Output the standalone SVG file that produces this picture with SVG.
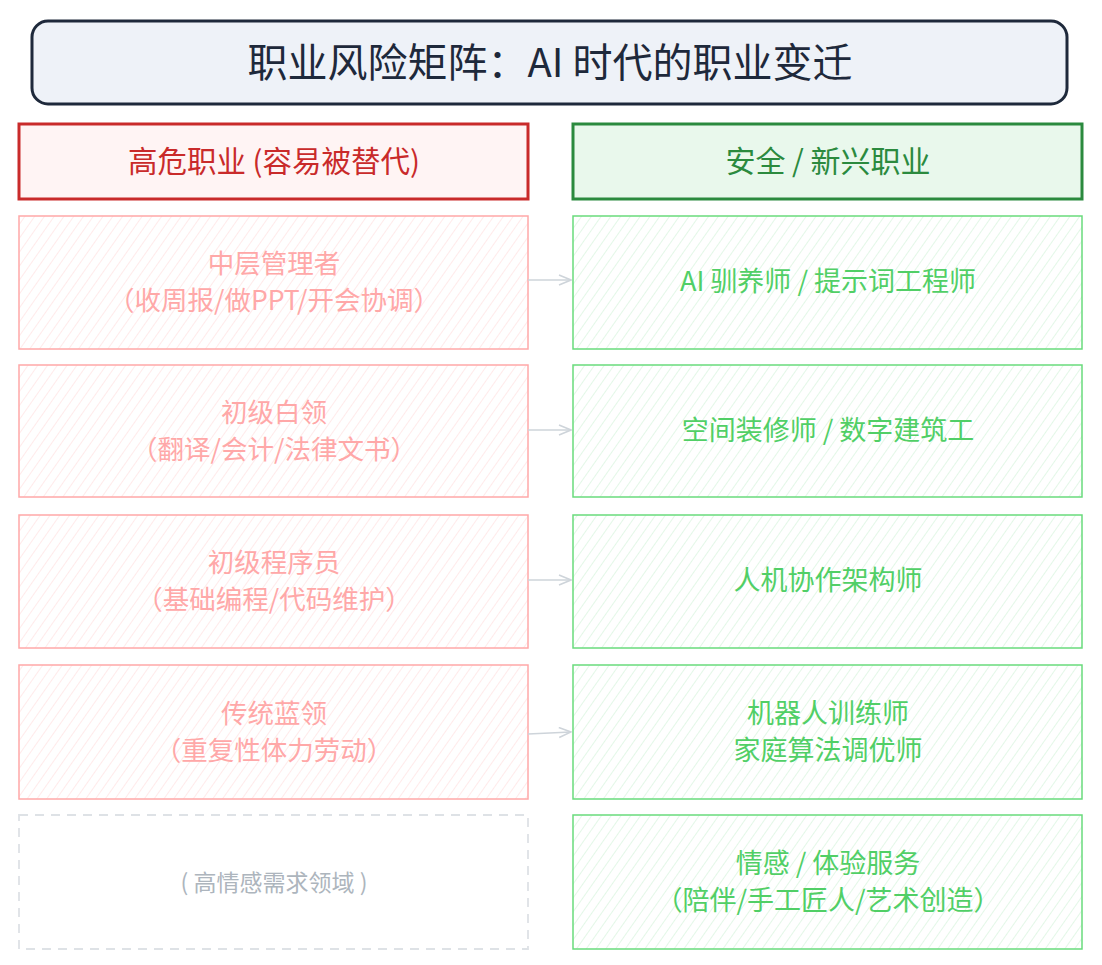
<svg xmlns="http://www.w3.org/2000/svg" width="1102" height="965" viewBox="0 0 1102 965">
<defs>
<pattern id="hr" width="8" height="8" patternUnits="userSpaceOnUse" patternTransform="rotate(35)">
<line x1="0" y1="0" x2="0" y2="8" stroke="#ffd6d6" stroke-width="1"/>
</pattern>
<pattern id="hg" width="8" height="8" patternUnits="userSpaceOnUse" patternTransform="rotate(35)">
<line x1="0" y1="0" x2="0" y2="8" stroke="#c8f0cf" stroke-width="1"/>
</pattern>
<marker id="ah" markerWidth="14" markerHeight="12" refX="13" refY="6" orient="auto" markerUnits="userSpaceOnUse">
<path d="M1,1 L13,6 L1,11" fill="none" stroke="#ced4da" stroke-width="1.5"/>
</marker>
</defs>
<style>
text{font-family:"Noto Sans CJK SC","Noto Sans",sans-serif;text-anchor:middle;dominant-baseline:central}
.lb{fill:url(#hr);stroke:#ffa8a8;stroke-width:1.5}
.rb{fill:url(#hg);stroke:#69db7c;stroke-width:1.5}
.lt{fill:#ffa8a8;font-size:26.5px}
.rt{fill:#51cf66;font-size:27px}
.cn{stroke:#ced4da;stroke-width:1.5;fill:none}
</style>
<rect width="1102" height="965" fill="#ffffff"/>
<g id="title">
<rect x="32" y="21" width="1035" height="83" rx="16" fill="#eef2f8" stroke="#1e293b" stroke-width="3"/>
<text x="550" y="60" font-size="40" fill="#1e293b">职业风险矩阵：AI 时代的职业变迁</text>
</g>
<g id="hdr-left">
<rect x="19" y="124" width="509" height="75" fill="#fff4f4" stroke="#c92a2a" stroke-width="3"/>
<text x="274" y="159" font-size="29.5" fill="#c92a2a">高危职业 (容易被替代)</text>
</g>
<g id="hdr-right">
<rect x="573" y="124" width="509" height="75" fill="#e9f8ec" stroke="#2b8a3e" stroke-width="3"/>
<text x="828" y="159" font-size="30" fill="#2b8a3e">安全 / 新兴职业</text>
</g>
<g id="l1"><rect class="lb" x="19" y="216" width="509" height="133"/>
<text class="lt" x="274" y="261">中层管理者</text><text class="lt" x="274" y="298">（收周报/做PPT/开会协调）</text></g>
<g id="l2"><rect class="lb" x="19" y="365" width="509" height="132"/>
<text class="lt" x="274" y="410">初级白领</text><text class="lt" x="274" y="447">（翻译/会计/法律文书）</text></g>
<g id="l3"><rect class="lb" x="19" y="515" width="509" height="133"/>
<text class="lt" x="274" y="560">初级程序员</text><text class="lt" x="274" y="597">（基础编程/代码维护）</text></g>
<g id="l4"><rect class="lb" x="19" y="665" width="509" height="134"/>
<text class="lt" x="274" y="711">传统蓝领</text><text class="lt" x="274" y="748">（重复性体力劳动）</text></g>
<g id="l5"><rect x="19" y="815" width="509" height="134" fill="#ffffff" stroke="#dee2e6" stroke-width="1.8" stroke-dasharray="9,7"/>
<text x="274" y="881" font-size="23" fill="#adb5bd">( 高情感需求领域 )</text></g>
<g id="r1"><rect class="rb" x="573" y="216" width="509" height="133"/>
<text class="rt" x="828" y="279">AI 驯养师 / 提示词工程师</text></g>
<g id="r2"><rect class="rb" x="573" y="365" width="509" height="132"/>
<text class="rt" x="828" y="428">空间装修师 / 数字建筑工</text></g>
<g id="r3"><rect class="rb" x="573" y="515" width="509" height="133"/>
<text class="rt" x="828" y="578">人机协作架构师</text></g>
<g id="r4"><rect class="rb" x="573" y="665" width="509" height="134"/>
<text class="rt" x="828" y="711">机器人训练师</text><text class="rt" x="828" y="748">家庭算法调优师</text></g>
<g id="r5"><rect class="rb" x="573" y="815" width="509" height="134"/>
<text class="rt" x="828" y="861">情感 / 体验服务</text><text class="rt" x="828" y="898">（陪伴/手工匠人/艺术创造）</text></g>
<g id="connectors">
<path class="cn" d="M528,280 L571,280" marker-end="url(#ah)"/>
<path class="cn" d="M528,430 L571,430" marker-end="url(#ah)"/>
<path class="cn" d="M528,580 L571,580" marker-end="url(#ah)"/>
<path class="cn" d="M528,734 L571,732" marker-end="url(#ah)"/>
</g>
</svg>
